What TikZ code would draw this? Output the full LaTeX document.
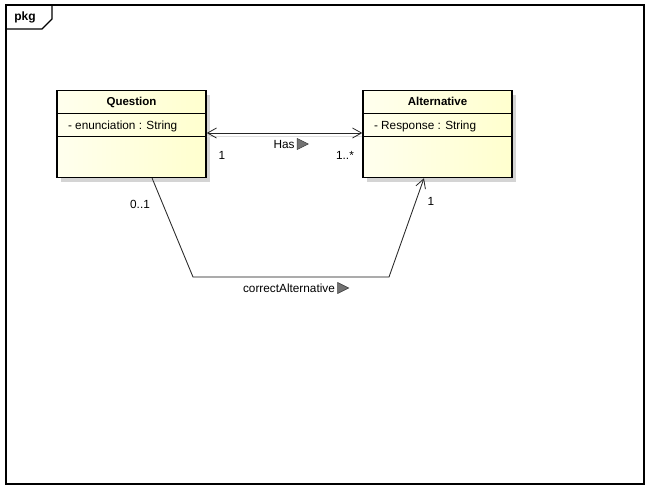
\documentclass[tikz,border=0pt]{standalone}
\usepackage{fontspec}
\setmainfont{Liberation Sans}
\usetikzlibrary{arrows.meta,positioning,shadows}

\definecolor{classlight}{RGB}{255,255,238}
\definecolor{classdark}{RGB}{255,255,206}
\definecolor{shadowgray}{RGB}{212,212,212}
\definecolor{linegray}{RGB}{222,222,222}

\tikzset{
  classbox/.style={draw, line width=1.4pt, left color=classlight, right color=classdark,
    minimum width=149pt, minimum height=87pt, inner sep=0pt,
    drop shadow={shadow xshift=4pt, shadow yshift=-4pt, fill=shadowgray, opacity=1}},
  classtitle/.style={font=\fontsize{11.5}{13}\selectfont\bfseries, minimum width=149pt,
    minimum height=23pt, inner sep=0pt, text height=8.5pt, text depth=0pt},
  attr/.style={font=\fontsize{11.8}{13}\selectfont, minimum height=23pt, inner xsep=11pt, inner ysep=0pt,
    text height=8.5pt, text depth=0pt},
  lbl/.style={font=\fontsize{11.8}{13}\selectfont, inner sep=0pt},
  assoc/.style={line width=0.8pt, black!85},
  assocshadow/.style={line width=0.9pt, linegray},
  markfill/.style={fill=black!55, draw=black!75, line width=0.6pt},
  opentip/.tip={Straight Barb[length=9pt, width=10pt, line width=0.8pt]}
}

% richtungsdreieck neben einem label
\newcommand{\navmark}[1]{\filldraw[markfill] (#1.east) ++(2.5,-5.5) -- ++(11,5.5) -- ++(-11,5.5) -- cycle;}

\begin{document}
\begin{tikzpicture}[x=1pt, y=-1pt]
    \useasboundingbox (0,0) rectangle (649,490);

    % paketrahmen
    \draw[line width=1.1pt] (6,5) rectangle (644,484);
    \draw[line width=1.1pt] (6,29) -- (42,29) -- (52,19) -- (52,5);
    \node[font=\fontsize{12}{14}\selectfont\bfseries, inner sep=0pt] (pkglbl) at (25,17) {pkg};

    % klassen
    \node[classbox] (question) at (131.5,134) {};
    \node[classtitle, below=0pt of question.north] (qtitle) {Question};
    \draw[line width=0.8pt] (qtitle.south west) -- (qtitle.south east);
    \node[attr, anchor=north west] (qattr) at (qtitle.south west) {- enunciation : String};
    \draw[line width=0.8pt] (qattr.south -| question.west) -- (qattr.south -| question.east);

    \node[classbox] (alternative) at (437.5,134) {};
    \node[classtitle, below=0pt of alternative.north] (atitle) {Alternative};
    \draw[line width=0.8pt] (atitle.south west) -- (atitle.south east);
    \node[attr, anchor=north west] (aattr) at (atitle.south west) {- Response : String};
    \draw[line width=0.8pt] (aattr.south -| alternative.west) -- (aattr.south -| alternative.east);

    % assoziation Has
    \draw[assocshadow] ([yshift=-2pt]question.east) -- ([yshift=-2pt]alternative.west);
    \draw[assoc, opentip-opentip] ([yshift=1pt]question.east) -- ([yshift=1pt]alternative.west);
    \node[lbl] (haslbl) at (284,144) {Has};
    \navmark{haslbl}
    \node[lbl] (hasq) at (222,155) {1};
    \node[lbl] (hasa) at (345,155) {1..*};

    % assoziation correctAlternative
    \coordinate (bendl) at (193,277);
    \coordinate (bendr) at (389,277);
    \draw[assocshadow, xshift=2pt, yshift=-2.5pt] (question.-65) -- (bendl) -- (bendr) -- (alternative.-107);
    \draw[assoc, -opentip] (question.-65) -- (bendl) -- (bendr) -- (alternative.-107);
    \node[lbl] (corrlbl) at (289,288) {correctAlternative};
    \navmark{corrlbl}
    \node[lbl] (corrq) at (140,204) {0..1};
    \node[lbl] (corra) at (431,201) {1};
\end{tikzpicture}
\end{document}
